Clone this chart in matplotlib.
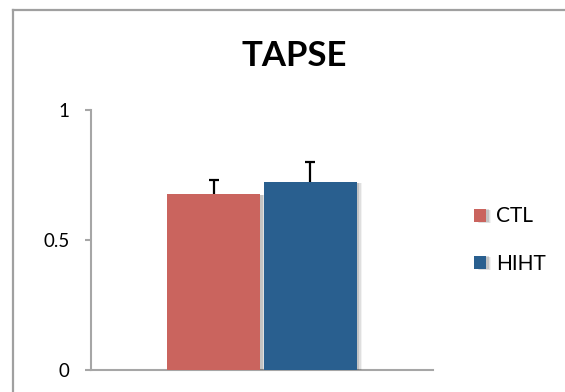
import matplotlib
matplotlib.use("Agg")
import matplotlib.pyplot as plt
import matplotlib.patheffects as pe
from matplotlib.lines import Line2D

# TAPSE group means and upper error (SEM)
groups = ["CTL", "HIHT"]
means = [0.677, 0.723]
errors = [0.054, 0.077]
colors = ["#CA645E", "#295F8F"]
yticks = [0, 0.5, 1]
ytick_labels = ["0", "0.5", "1"]

plt.rcParams["font.family"] = ["Lato", "DejaVu Sans"]

fig = plt.figure(figsize=(5.65, 3.92), dpi=100)
ax = fig.add_axes([91 / 565, 22 / 392, 342 / 565, 260 / 392])

# soft drop shadow on the bars
shadow = [
    pe.SimplePatchShadow(offset=(4, -1), shadow_rgbFace="#000000", alpha=0.05),
    pe.SimplePatchShadow(offset=(3, -1), shadow_rgbFace="#000000", alpha=0.08),
    pe.SimplePatchShadow(offset=(2, -0.5), shadow_rgbFace="#000000", alpha=0.12),
    pe.Normal(),
]

width = 0.272
offsets = [-0.1405, 0.1405]
for name, m, e, c, off in zip(groups, means, errors, colors, offsets):
    bars = ax.bar(off, m, width=width, color=c, label=name, zorder=3)
    for b in bars:
        b.set_path_effects(shadow)
    # error bar sits behind the bar so only the upper whisker shows
    ax.errorbar(off, m, yerr=[[0.01], [e]], fmt="none", ecolor="black",
                elinewidth=1.6, capsize=3.6, capthick=1.6, zorder=2)

ax.set_xlim(-0.5, 0.5)
ax.set_ylim(0, 1)
ax.set_yticks(yticks)
ax.set_yticklabels(ytick_labels)
ax.set_xticks([])
for side in ["top", "right"]:
    ax.spines[side].set_visible(False)
for side in ["left", "bottom"]:
    ax.spines[side].set_color("#a6a6a6")
    ax.spines[side].set_linewidth(1.5)
ax.tick_params(axis="y", direction="out", length=4.3, width=1.5,
               color="#a6a6a6", pad=11, labelsize=13.5, labelcolor="black")

fig.text(294 / 565, 1 - 56 / 392, "TAPSE", ha="center", va="center",
         fontsize=25, fontweight="bold")

ax.legend(loc="center left", bbox_to_anchor=(455 / 565, 1 - 240 / 392),
          bbox_transform=fig.transFigure, frameon=False, fontsize=15,
          handlelength=0.58, handleheight=0.58, handletextpad=0.5,
          labelspacing=1.3)

# outer chart border (top and left edges fall inside the image)
top = 1 - 9.5 / 392
left = 12.5 / 565
fig.add_artist(Line2D([left, 1.05], [top, top], transform=fig.transFigure,
                      color="#a0a0a0", linewidth=1.6))
fig.add_artist(Line2D([left, left], [-0.05, top], transform=fig.transFigure,
                      color="#a0a0a0", linewidth=1.6))

fig.savefig("out.png", dpi=100)
